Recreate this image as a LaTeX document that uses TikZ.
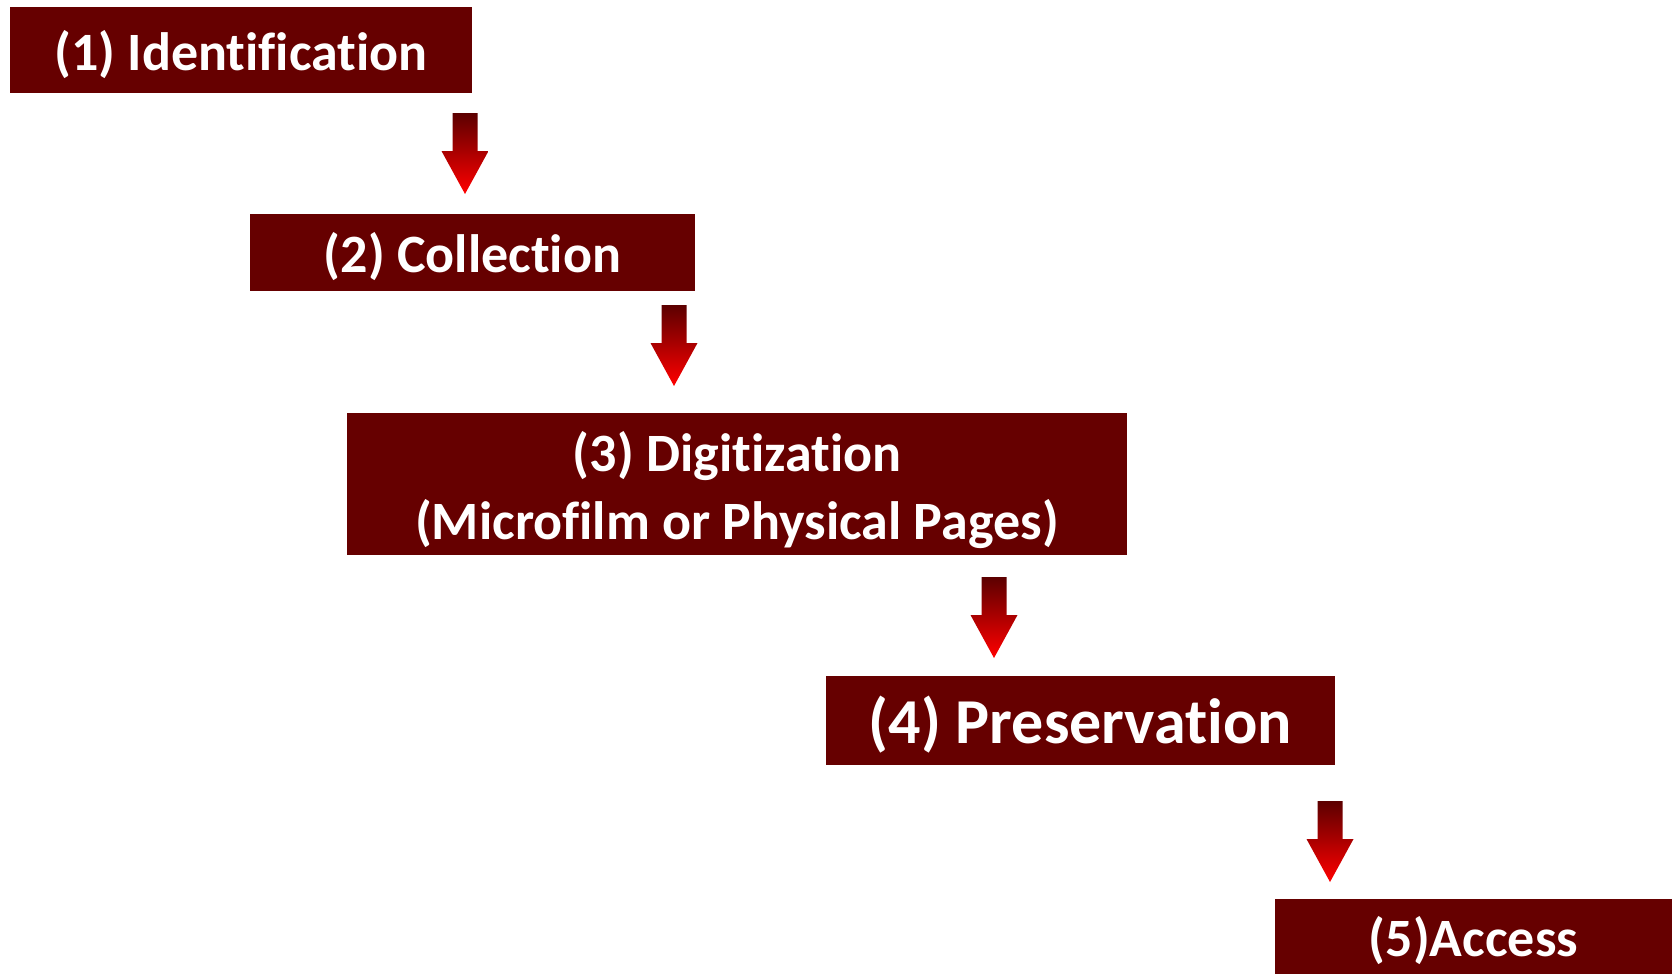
\documentclass[tikz,border=0pt]{standalone}
\usepackage{fontspec}
\setmainfont[Ligatures=NoCommon]{Carlito}
\usepackage{tikz}
\usetikzlibrary{positioning}

\definecolor{boxred}{RGB}{102,0,0}
\definecolor{shaftdark}{RGB}{92,0,0}
\definecolor{shaftmid}{RGB}{200,0,0}
\definecolor{headred}{RGB}{255,0,0}

\tikzset{
  stepbox/.style={fill=boxred, draw=none, text=white, align=center,
    font=\bfseries\fontsize{54}{68}\selectfont, inner sep=0pt},
  flowarrow/.style={top color=shaftdark, middle color=shaftmid, bottom color=headred, draw=none}
}

\begin{document}
\begin{tikzpicture}[x=1pt,y=1pt,yscale=-1,xscale=1]
\useasboundingbox (0,0) rectangle (1672,974);

% Text Node
\node [stepbox, minimum width=462, minimum height=86] (ident) at (241,50) {\rule{0pt}{0.9em}(1) Identification};
% Text Node
\node [stepbox, minimum width=445, minimum height=77] (coll) at (472.5,252.5) {\rule{0pt}{0.9em}(2) Collection};
% Text Node
\node [stepbox, minimum width=780, minimum height=142] (digit) at (737,483.5) {\rule{0pt}{1em}(3) Digitization\\(Microfilm or Physical Pages)};
% Text Node
\node [stepbox, minimum width=509, minimum height=89, font=\bfseries\fontsize{64}{68}\selectfont] (pres) at (1080.5,720) {\rule{0pt}{0.9em}(4) Preservation};
% Text Node
\node [stepbox, minimum width=397, minimum height=75] (access) at (1473.5,936.5) {\rule{0pt}{0.9em}(5)Access};

% arrow tops
\coordinate (a1) at (465,113);
\coordinate (a2) at (674,305);
\coordinate (a3) at (994,577);
\coordinate (a4) at (1330,801);

%Shape: Down Arrows
\foreach \a in {a1,a2,a3,a4}
  \shade [flowarrow] (\a) ++(-12.5,0) -- ++(25,0) -- ++(0,38) -- ++(11,0) -- ++(-23.5,43) -- ++(-23.5,-43) -- ++(11,0) -- cycle;

\end{tikzpicture}
\end{document}
